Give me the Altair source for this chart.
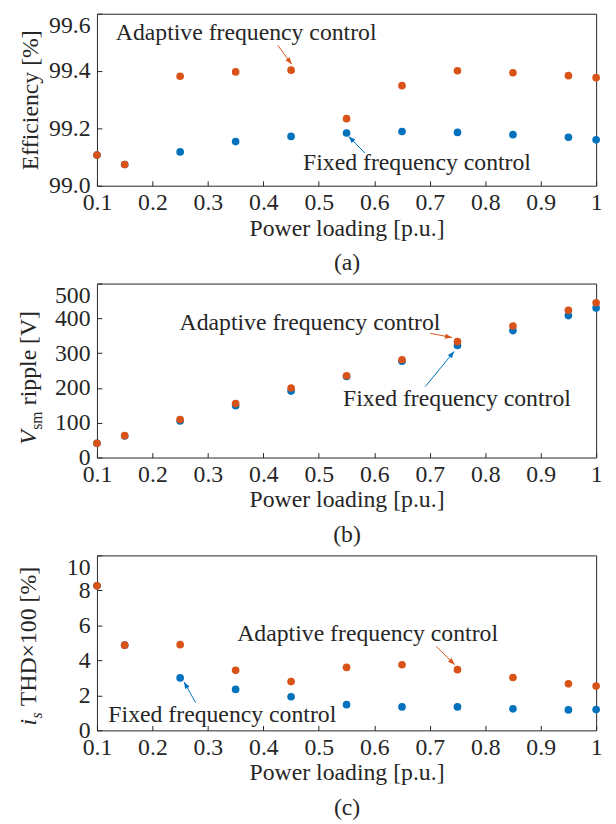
import math
import altair as alt
import pandas as pd

# ---------------- data ----------------
load = [0.1, 0.15, 0.25, 0.35, 0.45, 0.55, 0.65, 0.75, 0.85, 0.95, 1.0]
eff_adaptive = [99.107, 99.074, 99.382, 99.397, 99.403, 99.234, 99.349, 99.401, 99.394, 99.384, 99.377]
eff_fixed = [99.107, 99.074, 99.118, 99.154, 99.172, 99.184, 99.189, 99.186, 99.178, 99.169, 99.160]
rip_adaptive = [41, 63, 109, 155, 200, 235, 281, 333, 378, 423, 445]
rip_fixed = [41, 62, 105, 149, 191, 233, 277, 322, 365, 408, 430]
thd_adaptive = [8.26, 4.87, 4.90, 3.43, 2.79, 3.60, 3.75, 3.47, 3.02, 2.66, 2.53]
thd_fixed = [8.26, 4.87, 3.00, 2.34, 1.92, 1.47, 1.34, 1.34, 1.23, 1.17, 1.19]

x_ticks = [0.1, 0.2, 0.3, 0.4, 0.5, 0.6, 0.7, 0.8, 0.9, 1.0]
eff_ticks = [99.0, 99.2, 99.4, 99.6]
rip_ticks = [0, 100, 200, 300, 400, 500]
thd_ticks = [0, 2, 4, 6, 8, 10]

note_text = ["Adaptive frequency control", "Fixed frequency control"]
note_x_a = [0.369, 0.677]
note_y_a = [99.534, 99.079]
note_x_b = [0.484, 0.749]
note_y_b = [386, 168]
note_x_c = [0.588, 0.326]
note_y_c = [5.48, 0.90]

# arrows: [adaptive, fixed]  start -> tip
arr_a_xs, arr_a_ys, arr_a_xt, arr_a_yt = [0.426, 0.583], [99.490, 99.114], [0.451, 0.554], [99.424, 99.172]
arr_b_xs, arr_b_ys, arr_b_xt, arr_b_yt = [0.701, 0.692], [357, 204], [0.740, 0.744], [345, 305]
arr_c_xs, arr_c_ys, arr_c_xt, arr_c_yt = [0.712, 0.278], [4.79, 1.58], [0.745, 0.257], [3.75, 2.77]

ORANGE = "#D95319"
BLUE = "#0072BD"
INK = "#262626"
FONT = "Liberation Serif"
FS = 24
SFS = 16
NFS = 24
W = 505
XDOM = [0.1, 1.0]


def panel(adaptive, fixed, ydom, yticks, yfmt, height, ytitle, caption,
          nx, ny, axs, ays, axt, ayt, extra_title=None):
    pts = pd.DataFrame({
        "x": load * 2,
        "y": fixed + adaptive,
        "s": ["Fixed"] * len(load) + ["Adaptive"] * len(load),
    })
    xs = alt.Scale(domain=XDOM, nice=False, zero=False)
    ys = alt.Scale(domain=ydom, nice=False, zero=False)
    top = max(yticks)
    xaxis = alt.Axis(values=x_ticks,
                     labelExpr="datum.value == 1 ? '1' : format(datum.value, '.1f')",
                     labelFlush=False, labelOverlap=False,
                     title=["Power loading [p.u.]", caption],
                     titleLineHeight=35, titlePadding=2, labelPadding=5)
    yaxis = alt.Axis(values=yticks, format=yfmt, title=ytitle,
                     labelPadding=7, titlePadding=6, labelOverlap=False,
                     labelBaseline={"condition": {"test": f"datum.value >= {top}", "value": "top"},
                                    "value": "middle"})
    X = lambda f: alt.X(f, scale=xs, axis=xaxis)
    Y = lambda f: alt.Y(f, scale=ys, axis=yaxis)

    base_pts = alt.Chart(pts)
    fixed_layer = base_pts.transform_filter("datum.s == 'Fixed'").mark_circle(
        size=60, opacity=1, color=BLUE).encode(x=X("x:Q"), y=Y("y:Q"))
    adapt_layer = base_pts.transform_filter("datum.s == 'Adaptive'").mark_circle(
        size=60, opacity=1, color=ORANGE).encode(x=X("x:Q"), y=Y("y:Q"))

    notes = pd.DataFrame({"x": nx, "y": ny, "t": note_text})
    note_layer = alt.Chart(notes).mark_text(font=FONT, fontSize=NFS, color=INK,
                                            align="center", baseline="middle").encode(
        x=X("x:Q"), y=Y("y:Q"), text="t:N")

    yspan = ydom[1] - ydom[0]
    angs = []
    for i in range(2):
        dx = (axt[i] - axs[i]) / (XDOM[1] - XDOM[0]) * W
        dy = -(ayt[i] - ays[i]) / yspan * height
        angs.append(math.degrees(math.atan2(dx, -dy)) % 360)
    arr = pd.DataFrame({"x": axs, "y": ays, "x2": axt, "y2": ayt, "a": angs,
                        "c": [ORANGE, BLUE]})
    rule_layer = alt.Chart(arr).mark_rule(strokeWidth=1).encode(
        x=X("x:Q"), y=Y("y:Q"),
        x2="x2:Q", y2="y2:Q", color=alt.Color("c:N", scale=None))
    head_layer = alt.Chart(arr).mark_point(
        shape="M0,0 L-0.38,1 L0.38,1 Z", filled=True, size=190, opacity=1).encode(
        x=X("x2:Q"), y=Y("y2:Q"),
        angle=alt.Angle("a:Q", scale=None), color=alt.Color("c:N", scale=None))

    layers = [fixed_layer, adapt_layer, rule_layer, head_layer, note_layer]
    if extra_title is not None:
        for (txt, px, py, fs, style) in extra_title:
            layers.append(alt.Chart(pd.DataFrame({"k": [0]})).mark_text(
                font=FONT, fontSize=fs, fontStyle=style, color=INK, angle=270,
                align="left", baseline="alphabetic").encode(
                x=alt.value(px), y=alt.value(py), text=alt.value(txt)))
    return alt.layer(*layers).properties(width=W, height=height)


# (a)
pa = panel(eff_adaptive, eff_fixed, [99.0, 99.6], eff_ticks, ".1f", 174,
           "Efficiency [%]", "(a)", note_x_a, note_y_a,
           arr_a_xs, arr_a_ys, arr_a_xt, arr_a_yt)

# (b) title V_sm ripple [V]
hb = 176
yb0 = 163
title_b = [
    ("V", -62, yb0, FS, "italic"),
    ("sm", -56, yb0 - 15, SFS, "normal"),
    ("ripple [V]", -62, yb0 - 15 - 19 - 6, FS, "normal"),
]
pb = panel(rip_adaptive, rip_fixed, [0, 500], rip_ticks, "d", hb,
           "", "(b)", note_x_b, note_y_b,
           arr_b_xs, arr_b_ys, arr_b_xt, arr_b_yt, extra_title=title_b)

# (c) title i_s THD×100 [%]
hc = 177
yc0 = 172
title_c = [
    ("i", -62, yc0, FS, "italic"),
    ("s", -56, yc0 - 7, SFS, "italic"),
    ("THD×100 [%]", -62, yc0 - 7 - 6.5 - 6, FS, "normal"),
]
pc = panel(thd_adaptive, thd_fixed, [0, 10], thd_ticks, "d", hc,
           "", "(c)", note_x_c, note_y_c,
           arr_c_xs, arr_c_ys, arr_c_xt, arr_c_yt, extra_title=title_c)

chart = alt.vconcat(pa, pb, pc, spacing=99, bounds="flush").properties(
    padding={"left": 8, "right": 5, "top": 0, "bottom": 5}
).configure_view(stroke=INK, strokeWidth=1).configure_axis(
    domain=False, grid=False, ticks=True, tickSize=5, offset=-5, tickColor=INK,
    labelFont=FONT, labelFontSize=FS, labelColor=INK,
    titleFont=FONT, titleFontSize=FS, titleFontWeight="normal", titleColor=INK,
)

chart.save("out.html", embed_options={"renderer": "svg", "actions": False})
